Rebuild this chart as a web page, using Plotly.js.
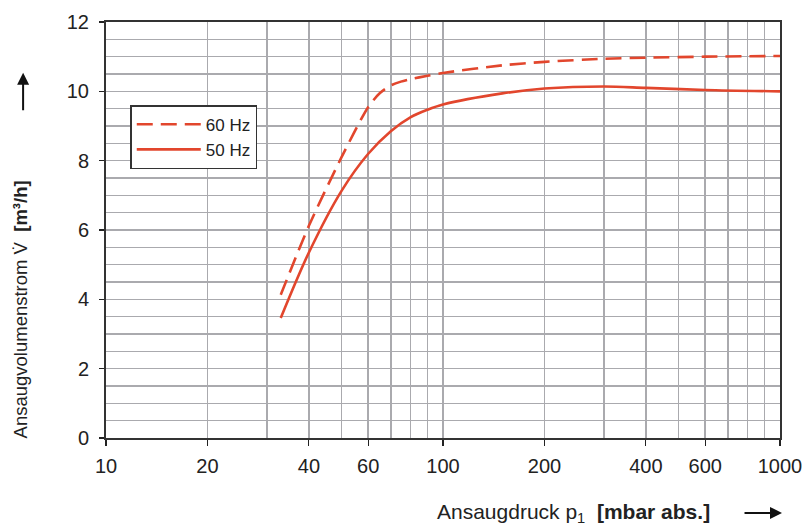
<!DOCTYPE html>
<html><head><meta charset="utf-8">
<script src="https://cdn.plot.ly/plotly-3.0.1.min.js"></script>
<style>body{margin:0;background:#fff}#c{width:805px;height:529px}</style>
</head><body><div id="c"></div>
<script>
const pressure60 = [33, 40, 50, 60, 65, 70, 75, 80, 90, 100, 150, 200, 300, 400, 600, 1000];
const flow60     = [4.13, 6.12, 8.1, 9.55, 9.95, 10.17, 10.28, 10.35, 10.45, 10.53, 10.75, 10.85, 10.94, 10.97, 11.0, 11.02];
const pressure50 = [33, 40, 50, 60, 70, 80, 90, 100, 150, 200, 300, 400, 600, 1000];
const flow50     = [3.46, 5.35, 7.13, 8.2, 8.85, 9.25, 9.47, 9.62, 9.94, 10.08, 10.14, 10.1, 10.04, 10.0];
const xTickVals = [10, 20, 40, 60, 100, 200, 400, 600, 1000];
const xMinorVals = [30, 50, 70, 80, 90, 300, 500, 700, 800, 900];
const seriesNames = ['60 Hz', '50 Hz'];

const red = '#e2462d';
const font = 'Liberation Sans, Arial, Helvetica, sans-serif';
const data = [
  {x: pressure60, y: flow60, name: seriesNames[0], mode: 'lines',
   line: {color: red, width: 2.6, dash: '16px,8px', shape: 'spline', smoothing: 0.7}},
  {x: pressure50, y: flow50, name: seriesNames[1], mode: 'lines',
   line: {color: red, width: 2.6, shape: 'spline', smoothing: 0.9}}
];
const layout = {
  width: 805, height: 529,
  margin: {l: 106, r: 25, t: 22, b: 91},
  paper_bgcolor: '#fff', plot_bgcolor: '#fff',
  font: {family: font, color: '#222', size: 20},
  showlegend: true,
  legend: {x: 0.036, y: 0.80, xanchor: 'left', yanchor: 'top', bgcolor: '#fff',
           bordercolor: '#333', borderwidth: 1.5, font: {size: 17, color: '#222'},
           tracegroupgap: 2, itemwidth: 64},
  xaxis: {type: 'log', range: [1, 3], tickmode: 'array', tickvals: xTickVals,
          ticktext: xTickVals.map(String), tickfont: {size: 20, color: '#222'},
          showgrid: true, gridcolor: '#aaaaae', gridwidth: 1.6,
          ticks: 'outside', ticklen: 6, tickcolor: '#222', tickwidth: 1.2,
          showline: true, linecolor: '#333', linewidth: 2, mirror: true,
          ticklabelstandoff: 3, zeroline: false,
          minor: {tickmode: 'array', tickvals: xMinorVals, showgrid: true,
                  gridcolor: '#aaaaae', gridwidth: 1.6, ticks: ''}},
  yaxis: {range: [0, 12], dtick: 2, tick0: 0, tickfont: {size: 20, color: '#222'},
          showgrid: true, gridcolor: '#aaaaae', gridwidth: 1.6,
          ticks: 'outside', ticklen: 5, tickcolor: '#222', tickwidth: 1.2,
          showline: true, linecolor: '#333', linewidth: 2, mirror: true,
          ticklabelstandoff: 6, zeroline: false,
          minor: {dtick: 0.5, showgrid: true, gridcolor: '#aaaaae', gridwidth: 1.6,
                  ticks: ''}},
  annotations: [
    {xref: 'paper', yref: 'paper', x: -0.127, y: 0.31, textangle: -90,
     text: 'Ansaugvolumenstrom V\u0307  <b>[m³/h]</b>', showarrow: false,
     font: {size: 18.5, color: '#222'}, xanchor: 'center', yanchor: 'middle'},
    {xref: 'paper', yref: 'paper', x: -0.123, y: 0.878, text: '', showarrow: true,
     axref: 'pixel', ayref: 'pixel', ax: 0, ay: 39, arrowhead: 2, arrowsize: 1.2,
     arrowwidth: 2, arrowcolor: '#111'},
    {xref: 'paper', yref: 'paper', x: 0.693, y: -0.18,
     text: 'Ansaugdruck p<sub>1</sub>  <b>[mbar abs.]</b>', showarrow: false,
     font: {size: 21, color: '#222'}, xanchor: 'center', yanchor: 'middle'},
    {xref: 'paper', yref: 'paper', x: 1.003, y: -0.18, text: '', showarrow: true,
     axref: 'pixel', ayref: 'pixel', ax: -39, ay: 0, arrowhead: 2, arrowsize: 1.2,
     arrowwidth: 2, arrowcolor: '#111'}
  ]
};
Plotly.newPlot('c', data, layout, {displayModeBar: false, staticPlot: true});
</script></body></html>
